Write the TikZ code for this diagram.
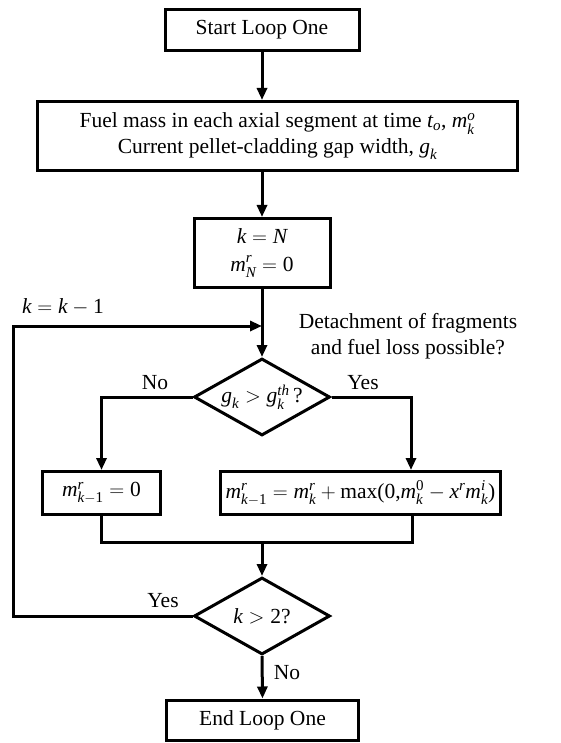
\documentclass[tikz,border=0pt]{standalone}
\usepackage{amsmath}
\usepackage{fontspec}
\setmainfont{Liberation Serif}
\usetikzlibrary{arrows.meta,shapes.geometric,calc}
\newcommand{\V}[1]{\text{\normalfont\itshape #1}}
\newcommand{\U}[1]{\text{\normalfont #1}}
\newcommand{\RS}[2]{\raisebox{#1}{$\scriptstyle #2$}}
\begin{document}
\begin{tikzpicture}[x=1pt,y=-1pt,
  every node/.style={font=\fontsize{21.5}{26}\selectfont},
  box/.style={draw,line width=3pt,align=center,inner sep=0pt},
  dia/.style={draw,line width=3pt,diamond,aspect=1.7,inner sep=0pt,minimum width=136pt,minimum height=77pt},
  conn/.style={line width=3pt},
  arr/.style={line width=3pt,-{Triangle[length=12pt,width=10pt]}},
  lbl/.style={inner sep=0pt}]
\path[use as bounding box] (0,0) rectangle (561,743);
\node[box,minimum width=194pt,minimum height=41pt] (start) at (262,30) {Start Loop One};
\node[box,minimum width=480pt,minimum height=69pt] (fuel) at (277.5,136) {Fuel mass in each axial segment at time $\V{t}_{\V{o}}$, $\V{m}_{\V{k}}^{\V{o}}$\\Current pellet-cladding gap width, $\V{g}_{\V{k}}$};
\node[box,minimum width=136pt,minimum height=69pt,font=\fontsize{21.5}{28}\selectfont] (kN) at (262,253) {$\V{k}=\V{N}$\\$\V{m}_{\RS{-1.5pt}{\V{N}}}^{\RS{1.5pt}{\V{r}}}=\U{0}$};
\node[dia] (d1) at (262,397) {$\V{g}_{\V{k}} > \V{g}_{\V{k}}^{\V{th}}$\,?};
\node[box,minimum width=118pt,minimum height=43pt] (lb) at (101.5,493) {$\V{m}_{\V{k}-\U{1}}^{\V{r}} = \U{0}$};
\node[box,minimum width=280pt,minimum height=43pt] (rb) at (360.5,493) {$\V{m}_{\V{k}-\U{1}}^{\V{r}} = \V{m}_{\V{k}}^{\V{r}} + \U{max(0,}\V{m}_{\V{k}}^{\U{0}} - \V{x}^{\V{r}}\V{m}_{\V{k}}^{\V{i}}\U{)}$};
\node[dia] (d2) at (262,616) {$\V{k}>\U{2}$?};
\node[box,minimum width=192pt,minimum height=40pt] (end) at (262.5,720) {End Loop One};
% labels
\node[lbl] (no1) at (155,383) {No};
\node[lbl] (yes1) at (363,383) {Yes};
\node[lbl] (yes2) at (163,601) {Yes};
\node[lbl] (no2) at (287,673) {No};
\node[lbl] (kk) at (63,307) {$\V{k}=\V{k}-\U{1}$};
\node[lbl,align=center] (det) at (408,336) {Detachment of fragments\\and fuel loss possible?};
% coordinates
\coordinate (join) at (262,326);
\coordinate (loopc) at (13,326);
\coordinate (merge) at (262,542);
% connectors
\draw[arr] (start.south) -- (start.south |- fuel.north);
\draw[arr] (kN.north |- fuel.south) -- (kN.north);
\draw[arr] (kN.south) -- (d1.north);
\draw[arr] (d1.west) -| (lb.north);
\draw[arr] (d1.east) -| ([xshift=50.5pt]rb.north);
\draw[conn] (lb.south) |- (merge) -| ([xshift=52pt]rb.south);
\draw[arr] (merge) -- (d2.north);
\draw[arr] (d2.south) -- (end.north);
\draw[arr] (d2.west) -| (loopc) -- (join);
\end{tikzpicture}
\end{document}
